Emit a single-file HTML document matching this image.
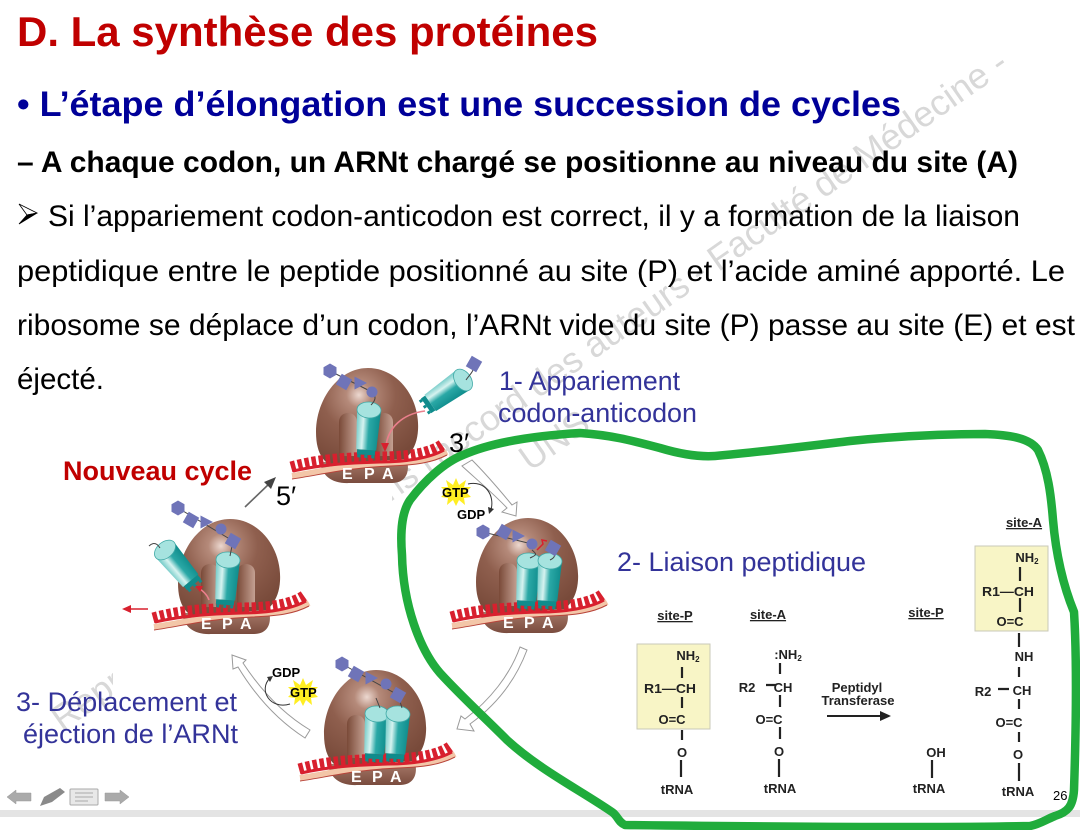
<!DOCTYPE html>
<html><head><meta charset="utf-8"><style>
html,body{margin:0;padding:0;background:#fff}
svg{display:block}
text{font-family:"Liberation Sans",sans-serif}
.c text{font-weight:bold;font-size:13px;fill:#222;text-anchor:middle}
.b{stroke:#222;stroke-width:2.2;fill:none}
.bl{font-size:26.5px;fill:#333399}
.u{text-decoration:underline}
.e{font-size:16px;font-weight:bold;fill:#fff}
.g{font-size:13px;font-weight:bold;fill:#000}
.ar{fill:#fff;stroke:#9a9a9a;stroke-width:1}
</style></head><body>
<svg width="1080" height="830" viewBox="0 0 1080 830" xmlns="http://www.w3.org/2000/svg">
<defs>
<radialGradient id="bd" cx="0.42" cy="0.27" r="0.72"><stop offset="0" stop-color="#ecd8d0"/><stop offset="0.17" stop-color="#b58a7a"/><stop offset="0.5" stop-color="#8f5f4e"/><stop offset="1" stop-color="#784a3a"/></radialGradient>
<linearGradient id="lb" x1="0" y1="0" x2="0" y2="1"><stop offset="0" stop-color="#a87a6a"/><stop offset="1" stop-color="#7a4c3e"/></linearGradient>
<linearGradient id="tn" x1="0" y1="0" x2="1" y2="0"><stop offset="0" stop-color="#7a4a38"/><stop offset="1" stop-color="#c4a092"/></linearGradient>
<linearGradient id="tr" x1="0" y1="0" x2="1" y2="0"><stop offset="0" stop-color="#6fc9c6"/><stop offset="0.3" stop-color="#d6f3f0"/><stop offset="0.55" stop-color="#2aa8a6"/><stop offset="1" stop-color="#0f8c8c"/></linearGradient>
<g id="rib">
<path d="M320,462 C322,476 332,484 350,483 L392,483 C406,483 410,472 407,460 Z" fill="url(#lb)"/>
<path d="M368,368 C398,368 420,398 418,430 C417,450 406,460 395,466 L340,468 C325,466 316,455 316,432 C316,400 338,368 368,368 Z" fill="url(#bd)"/>
<path d="M339,456 V422 C339,410 357,410 357,422 V456 Z" fill="url(#tn)"/>
<path d="M375,456 V422 C375,410 393,410 393,422 V456 Z" fill="url(#tn)"/>
<path d="M292,476 C320,472 345,465 390,463 C415,462 432,460 447,452" fill="none" stroke="#f3c6a8" stroke-width="6"/>
<path d="M292,479 C320,475 345,468 390,466 C415,465 432,463 447,455" fill="none" stroke="#b8443a" stroke-width="1"/>
<path d="M291,467 C320,459 345,458 380,457 C405,457 430,454 443,444" fill="none" stroke="#d8202e" stroke-width="11" stroke-dasharray="4.5 2.6"/>
<path d="M293,471 C320,465 345,463 380,462 C405,462 430,458 444,450" fill="none" stroke="#d8202e" stroke-width="3"/>
</g>
<g id="trna">
<path d="M-12,0 L-10,40 L10,40 L12,0 Z" fill="url(#tr)"/>
<rect x="-9" y="40" width="18" height="5" fill="#0f8c8c"/>
<path d="M-7,45V48M0,45V48M7,45V48" stroke="#0f8c8c" stroke-width="3"/>
<ellipse cx="0" cy="0" rx="12" ry="8" fill="#a6e3df" stroke="#3fa9a6" stroke-width="0.8"/>
</g>
<polygon id="hx" points="-6.5,-3.7 0,-7.5 6.5,-3.7 6.5,3.7 0,7.5 -6.5,3.7" fill="#6f74b8"/>
<g id="dm"><rect x="-6" y="-6" width="12" height="12" transform="rotate(30)" fill="#6f74b8"/></g>
<polygon id="tg" points="-5.5,-6.5 7,0 -5.5,6.5" fill="#6f74b8"/>
<circle id="ci" r="5.5" fill="#6f74b8"/>
</defs>
<rect width="1080" height="830" fill="#fff"/>

<!-- watermark -->
<g fill="#d8d8d8" font-size="36">
<text transform="translate(62,732) rotate(-35)">Reproduction interdite sans l'accord des auteurs - Faculté de Médecine -</text>
<text transform="translate(530,472) rotate(-35)">UNS</text>
</g>
<rect x="113" y="490" width="279" height="300" fill="#fff"/>
<rect x="240" y="430" width="150" height="70" fill="#fff"/>

<!-- heading text -->
<text x="17" y="46" font-size="42" font-weight="bold" fill="#c00000" textLength="581" lengthAdjust="spacingAndGlyphs">D. La synthèse des protéines</text>
<text x="17" y="116" font-size="35.3" font-weight="bold" fill="#000099" textLength="884" lengthAdjust="spacingAndGlyphs">• L’étape d’élongation est une succession de cycles</text>
<text x="17" y="172" font-size="30" font-weight="bold" fill="#000" textLength="1001" lengthAdjust="spacingAndGlyphs">– A chaque codon, un ARNt chargé se positionne au niveau du site (A)</text>
<path d="M19,204 L37,213 L27,215 Z" fill="#fff" stroke="#000" stroke-width="0.8"/><path d="M19,224 L37,213 L27,215 Z" fill="#000" stroke="#000" stroke-width="0.8"/>
<text x="48" y="226" font-size="30" fill="#000" textLength="972" lengthAdjust="spacingAndGlyphs">Si l’appariement codon-anticodon est correct, il y a formation de la liaison</text>
<text x="17" y="281" font-size="30" fill="#000" textLength="1048" lengthAdjust="spacingAndGlyphs">peptidique entre le peptide positionné au site (P) et l’acide aminé apporté. Le</text>
<text x="17" y="335" font-size="30" fill="#000" textLength="1058" lengthAdjust="spacingAndGlyphs">ribosome se déplace d’un codon, l’ARNt vide du site (P) passe au site (E) et est</text>
<text x="17" y="389" font-size="30" fill="#000" textLength="87" lengthAdjust="spacingAndGlyphs">éjecté.</text>

<!-- blue labels -->
<text class="bl" x="499" y="390" textLength="181" lengthAdjust="spacingAndGlyphs">1- Appariement</text>
<text class="bl" x="498" y="422" textLength="199" lengthAdjust="spacingAndGlyphs">codon-anticodon</text>
<text class="bl" x="617" y="571" textLength="249" lengthAdjust="spacingAndGlyphs">2- Liaison peptidique</text>
<text class="bl" x="16" y="711" textLength="221" lengthAdjust="spacingAndGlyphs">3- Déplacement et</text>
<text class="bl" x="23" y="743" textLength="215" lengthAdjust="spacingAndGlyphs">éjection de l’ARNt</text>
<text x="63" y="480" font-size="27" font-weight="bold" fill="#c00000" textLength="189" lengthAdjust="spacingAndGlyphs">Nouveau cycle</text>

<!-- cycle arrows -->
<path class="ar" d="M472,460 L462,466 C475,478 495,495 507,508 L502,512 L516,516 L517,502 L512,505 C498,488 485,473 472,460 Z"/>
<path class="ar" d="M520,647 L527,650 C515,682 495,706 470,724 L474,731 L457,729 L461,716 L465,719 C490,700 510,675 520,647 Z"/>
<path class="ar" d="M310,730 L305,738 C280,722 258,700 238,667 L233,669 L232,655 L246,660 L243,663 C262,692 285,715 310,730 Z"/>
<path d="M245,507 L270,483" stroke="#666" stroke-width="1.6" fill="none"/><path d="M276,477 L264,482 L271,489 Z" fill="#444"/>

<!-- ribosome top -->
<use href="#rib"/>
<g transform="translate(369,410) rotate(4)"><use href="#trna"/></g>
<g transform="translate(463,380) rotate(55)"><use href="#trna"/></g>
<path d="M371,405 C378,398 374,395 373,392 M330,371 L350,381 L372,392 M466,380 C470,374 474,372 474,364" fill="none" stroke="#444" stroke-width="1"/>
<use href="#hx" x="330" y="371"/><use href="#dm" x="344" y="382"/><use href="#tg" x="360" y="383"/><use href="#ci" x="372" y="392"/><use href="#dm" x="474" y="364"/>
<path d="M425,411 C402,414 388,428 386,446" fill="none" stroke="#ea7f8c" stroke-width="1.6"/><path d="M385,452 L381,443 L389,443 Z" fill="#d8202e"/>
<text class="e" x="342" y="479">E</text><text class="e" x="364" y="479">P</text><text class="e" x="382" y="479">A</text>

<!-- ribosome left -->
<g transform="translate(-138,151)"><use href="#rib"/></g>
<g transform="translate(228,560) rotate(4)"><use href="#trna"/></g>
<g transform="translate(165,550) rotate(-40)"><use href="#trna"/></g>
<path d="M160,548 C155,540 150,545 149,546 M178,508 L233,541 L230,556" fill="none" stroke="#444" stroke-width="1"/>
<use href="#hx" x="178" y="508"/><use href="#dm" x="191" y="520"/><use href="#tg" x="206" y="522"/><use href="#ci" x="221" y="529"/><use href="#dm" x="233" y="541"/>
<path d="M209,600 C207,594 202,590 197,587" fill="none" stroke="#ea7f8c" stroke-width="1.6"/><path d="M195,586 L203,586 L200,592 Z" fill="#d8202e"/>
<path d="M148,609 L128,609" stroke="#d8202e" stroke-width="1.6"/><path d="M122,609 L131,605 L131,613 Z" fill="#d8202e"/>
<text class="e" x="201" y="629">E</text><text class="e" x="222" y="629">P</text><text class="e" x="240" y="629">A</text>

<!-- ribosome right -->
<g transform="translate(160,150)"><use href="#rib"/></g>
<g transform="translate(529,561) rotate(4)"><use href="#trna"/></g>
<g transform="translate(550,561) rotate(4)"><use href="#trna"/></g>
<path d="M483,532 L532,544 M532,550 C538,555 536,555 530,558 M553,552 C556,556 554,558 550,560" fill="none" stroke="#444" stroke-width="1"/>
<use href="#hx" x="483" y="532"/><use href="#dm" x="504" y="532"/><use href="#tg" x="518" y="536"/><use href="#ci" x="532" y="544"/><path d="M537,550 L543,544 L542,540 L547,541" fill="none" stroke="#d8202e" stroke-width="1.5"/><use href="#dm" x="553" y="548"/>
<text class="e" x="503" y="628">E</text><text class="e" x="524" y="628">P</text><text class="e" x="542" y="628">A</text>

<!-- ribosome bottom -->
<g transform="translate(8,302)"><use href="#rib"/></g>
<g transform="translate(377,714) rotate(4)"><use href="#trna"/></g>
<g transform="translate(398,714) rotate(4)"><use href="#trna"/></g>
<path d="M342,664 L398,695 L402,708 M376,698 L380,708" fill="none" stroke="#444" stroke-width="1"/>
<use href="#hx" x="342" y="664"/><use href="#dm" x="356" y="674"/><use href="#tg" x="371" y="678"/><use href="#ci" x="386" y="684"/><use href="#dm" x="398" y="695"/>
<text class="e" x="351" y="782">E</text><text class="e" x="372" y="782">P</text><text class="e" x="390" y="782">A</text>

<text x="449" y="452" font-size="27" fill="#000">3′</text>
<text x="276" y="505" font-size="27" fill="#000">5′</text>

<!-- GTP GDP -->
<polygon points="456,478 459,485 466,480 464,487 471,487 466,492 471,497 464,498 465,505 459,500 456,506 453,500 447,505 448,498 441,497 446,492 441,487 448,487 446,480 453,485" fill="#ffee22"/>
<text class="g" x="442" y="497">GTP</text>
<path d="M468,484 C485,480 495,495 491,510" fill="none" stroke="#333" stroke-width="1"/><path d="M489,514 L488,507 L494,509 Z" fill="#333"/>
<text class="g" x="457" y="519">GDP</text>
<polygon points="303,678 306,685 313,680 311,687 318,687 313,692 318,697 311,698 312,705 306,700 303,706 300,700 294,705 295,698 288,697 293,692 288,687 295,687 293,680 300,685" fill="#ffee22"/>
<text class="g" x="290" y="697">GTP</text>
<path d="M290,704 C270,710 258,690 270,678" fill="none" stroke="#333" stroke-width="1"/><path d="M273,676 L267,677 L270,682 Z" fill="#333"/>
<text class="g" x="272" y="677">GDP</text>

<!-- chemistry -->
<rect x="637" y="644" width="73" height="85" fill="#f8f5c6" stroke="#c9c9b8"/>
<rect x="975" y="546" width="73" height="85" fill="#f8f5c6" stroke="#c9c9b8"/>
<g class="c">
<text x="675" y="620" class="u">site-P</text><text x="768" y="619" class="u">site-A</text><text x="926" y="617" class="u">site-P</text><text x="1024" y="527" class="u">site-A</text>
<text x="688" y="660">NH<tspan font-size="8" dy="2">2</tspan></text>
<text x="670" y="693" textLength="52" lengthAdjust="spacingAndGlyphs">R1—CH</text><text x="672" y="724">O=C</text><text x="682" y="757" font-size="14">O</text><text x="677" y="794">tRNA</text>
<text x="788" y="659">:NH<tspan font-size="8" dy="2">2</tspan></text>
<text x="747" y="692">R2</text><text x="783" y="692">CH</text><text x="769" y="724">O=C</text><text x="779" y="756">O</text><text x="780" y="793">tRNA</text>
<text x="857" y="692">Peptidyl</text><text x="858" y="705">Transferase</text>
<text x="936" y="757">OH</text><text x="929" y="793">tRNA</text>
<text x="1027" y="562">NH<tspan font-size="8" dy="2">2</tspan></text>
<text x="1008" y="596" textLength="52" lengthAdjust="spacingAndGlyphs">R1—CH</text><text x="1010" y="626">O=C</text><text x="1024" y="661">NH</text>
<text x="983" y="696">R2</text><text x="1022" y="695">CH</text><text x="1009" y="727">O=C</text><text x="1018" y="759">O</text><text x="1018" y="796">tRNA</text>
</g>
<path class="b" d="M682,667V678M682,697V708M682,730V740M681,760V777M780,663V674M766,685H776M780,695V707M780,727V739M779,759V777M932,760V778M1020,567V581M1020,598V612M1019,633V647M1019,667V677M998,689H1009M1019,699V709M1019,732V742M1019,763V781"/>
<path d="M827,716 H882" stroke="#222" stroke-width="2"/><path d="M891,716 L880,711 V721 Z" fill="#222"/>

<!-- bottom bar and nav -->
<rect x="0" y="810" width="1080" height="7" fill="#e4e4e4"/>
<text x="1053" y="800" font-size="13" fill="#000">26</text>
<path d="M7,797 L16,790 V793 H31 V801 H16 V804 Z" fill="#aaa" stroke="#999" stroke-width="0.5"/>
<path d="M40,806 L44,797 L60,788 L65,792 L52,802 Z" fill="#8a8a8a"/>
<rect x="70" y="789" width="28" height="16" rx="1" fill="#e8e8e8" stroke="#aaa"/><path d="M75,793H93M75,797H93M75,801H88" stroke="#aaa" stroke-width="1"/>
<path d="M129,797 L120,790 V793 H105 V801 H120 V804 Z" fill="#aaa" stroke="#999" stroke-width="0.5"/>

<!-- green freehand -->
<path d="M402,555 C400,530 402,512 410,500 C425,480 445,462 463,455 C490,443 530,436 580,433 C610,435 630,440 660,448 C680,454 700,457 715,456 C760,452 800,447 850,441 C900,436 950,434 985,434 C1010,435 1030,438 1038,450 C1048,470 1051,495 1053,520 C1056,555 1063,585 1074,612 C1077,660 1076,730 1074,790 C1073,806 1068,812 1055,816 C1045,820 1040,824 1030,826 C950,828 800,827 625,825 C618,822 618,816 612,812 C580,790 540,770 507,740 C485,718 460,695 440,673 C420,650 403,605 402,555 Z" fill="none" stroke="#20ac3c" stroke-width="8.5" stroke-linejoin="round"/>
</svg>
</body></html>
